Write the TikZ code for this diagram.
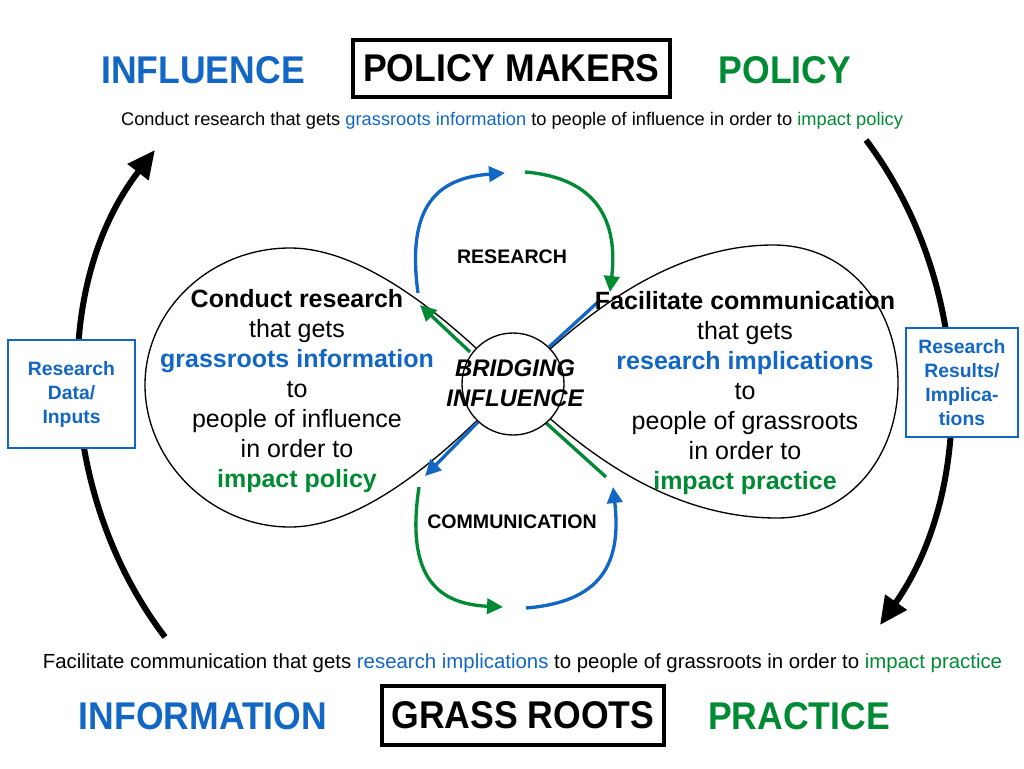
\documentclass[tikz,border=0pt]{standalone}
\usepackage{fontspec}
\setmainfont{Liberation Sans}
\newfontfamily\condfont{Liberation Sans}[FakeStretch=0.92]
\usetikzlibrary{arrows.meta}
\definecolor{bl}{RGB}{18,102,196}
\definecolor{gr}{RGB}{0,138,52}
\begin{document}
\begin{tikzpicture}[x=0.75pt,y=-0.75pt,
  titletxt/.style={font=\fontsize{29}{34}\selectfont\condfont\bfseries, inner sep=0pt},
  titlebox/.style={titletxt, draw=black, line width=2.3pt, fill=white},
  sentence/.style={font=\fontsize{13.7}{16}\selectfont, inner sep=0pt},
  lobe/.style={draw=black, line width=1pt},
  lobetext/.style={font=\fontsize{18.75}{22.5}\selectfont, align=center, inner sep=0pt},
  looplabel/.style={font=\fontsize{14.7}{17}\selectfont\bfseries, inner sep=0pt},
  sidebox/.style={draw=bl, fill=white, line width=1.5pt, text=bl, align=center,
    font=\fontsize{14.5}{18}\selectfont\bfseries, inner sep=0pt},
  bigarrow/.style={line width=4.5pt, -{Triangle[length=21pt,width=19pt]}},
  carrow/.style={line width=2.5pt, -{Triangle[length=12pt,width=11.5pt]}},
  cline/.style={line width=2.5pt}]
\useasboundingbox (0,0) rectangle (1024,768);

% titles
\node[titletxt, text=bl] (influence) at (203,70) {INFLUENCE};
\node[titlebox, minimum width=237.75pt, minimum height=42.75pt] (policymakers) at (511.5,68.5) {POLICY MAKERS};
\node[titletxt, text=gr] (policy) at (785,70) {POLICY};
\node[titletxt, text=bl] (information) at (203,716) {INFORMATION};
\node[titlebox, minimum width=211.5pt, minimum height=44.25pt] (grassroots) at (523,715.5) {GRASS ROOTS};
\node[titletxt, text=gr] (practice) at (799,716) {PRACTICE};

% sentences
\node[sentence] (topsent) at (512,121) {Conduct research that gets \textcolor{bl}{grassroots information} to people of influence in order to \textcolor{gr}{impact policy}};
\node[sentence, font=\fontsize{15.3}{18}\selectfont] (botsent) at (522.5,663) {Facilitate communication that gets \textcolor{bl}{research implications} to people of grassroots in order to \textcolor{gr}{impact practice}};

% big arrows
\coordinate (la0) at (165,637);
\coordinate (la1) at (155,150);
\coordinate (ra0) at (866,140);
\coordinate (ra1) at (880,625);
\draw[bigarrow] (la0) .. controls (59,498) and (48,289) .. (la1);
\draw[bigarrow] (ra0) .. controls (975,285) and (975,490) .. (ra1);

% side boxes
\node[sidebox, minimum width=95.25pt, minimum height=81pt] (leftbox) at (71.5,394) {Research\\Data/\\Inputs};
\node[sidebox, minimum width=84pt, minimum height=81.75pt] (rightbox) at (962,382.5) {Research\\Results/\\Implica-\\tions};

% lobes
\coordinate (ctr) at (513,384);
\draw[lobe] (ctr) .. controls (460,330) and (370,248) .. (290,248)
  .. controls (210,248) and (145,310) .. (145,385)
  .. controls (145,460) and (210,527) .. (290,527)
  .. controls (370,527) and (460,440) .. (ctr);
\draw[lobe] (ctr) .. controls (568,330) and (660,245) .. (773,245)
  .. controls (850,245) and (898,310) .. (898,383)
  .. controls (898,455) and (850,518) .. (777,518)
  .. controls (660,518) and (570,440) .. (ctr);

% coloured loops
\coordinate (bt0) at (418,293);
\coordinate (bt1) at (505,173);
\coordinate (gt0) at (525,172);
\coordinate (gt1) at (610,292);
\coordinate (gb0) at (419,487);
\coordinate (gb1) at (503,607);
\coordinate (bb0) at (526,608);
\coordinate (bb1) at (613,487);
\draw[carrow, bl] (bt0) .. controls (406,205) and (438,178) .. (bt1);
\draw[carrow, gr] (gt0) .. controls (598,178) and (618,222) .. (gt1);
\draw[carrow, gr] (gb0) .. controls (405,580) and (440,604) .. (gb1);
\draw[carrow, bl] (bb0) .. controls (600,602) and (622,565) .. (bb1);

% diagonals
\coordinate (gd0) at (470,352);
\coordinate (gd1) at (420,305);
\coordinate (bd0) at (478,422);
\coordinate (bd1) at (425,476);
\coordinate (bl0) at (549,347);
\coordinate (bl1) at (598,302);
\coordinate (gl0) at (545,422);
\coordinate (gl1) at (606,477);
\draw[carrow, gr] (gd0) -- (gd1);
\draw[carrow, bl] (bd0) -- (bd1);
\draw[cline, bl] (bl0) -- (bl1);
\draw[cline, gr] (gl0) -- (gl1);

% centre circle
\node[circle, draw=black, fill=white, line width=1pt, minimum size=76.5pt, inner sep=0pt] (bridge) at (ctr) {};
\node[font=\fontsize{18}{22.5}\selectfont\bfseries\itshape, align=center, inner sep=0pt] (bridgetext) at (515,383) {BRIDGING\\INFLUENCE};

% loop labels
\node[looplabel] (research) at (512,257) {RESEARCH};
\node[looplabel] (communication) at (512,522) {COMMUNICATION};

% lobe texts
\node[lobetext] (lefttext) at (297,391) {{\bfseries Conduct research}\\that gets\\\textcolor{bl}{\bfseries grassroots information}\\to\\people of influence\\in order to\\\textcolor{gr}{\bfseries impact policy}};
\node[lobetext] (righttext) at (745,393) {{\bfseries Facilitate communication}\\that gets\\\textcolor{bl}{\bfseries research implications}\\to\\people of grassroots\\in order to\\\textcolor{gr}{\bfseries impact practice}};
\end{tikzpicture}
\end{document}
